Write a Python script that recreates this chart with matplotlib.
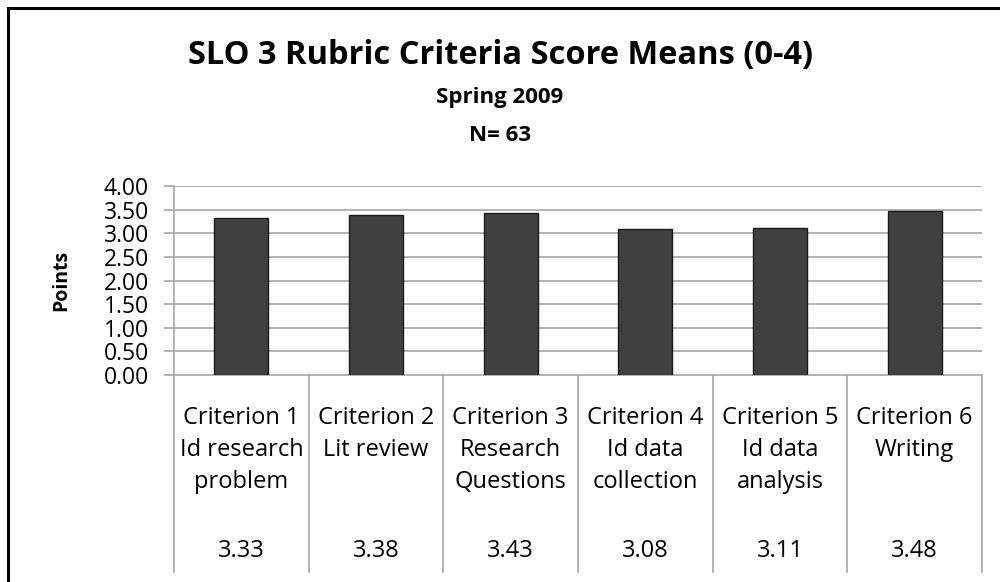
import matplotlib
matplotlib.use("Agg")
import matplotlib.pyplot as plt
from matplotlib.patches import Rectangle

plt.rcParams['font.family'] = ['Open Sans', 'DejaVu Sans']

categories = ["Criterion 1\nId research\nproblem", "Criterion 2\nLit review", "Criterion 3\nResearch\nQuestions",
              "Criterion 4\nId data\ncollection", "Criterion 5\nId data\nanalysis", "Criterion 6\nWriting"]
values = [3.33, 3.38, 3.43, 3.08, 3.11, 3.48]
value_labels = ["3.33", "3.38", "3.43", "3.08", "3.11", "3.48"]
yticks = [0.0, 0.5, 1.0, 1.5, 2.0, 2.5, 3.0, 3.5, 4.0]

fig = plt.figure(figsize=(10, 5.82), dpi=100)
W, H = 1000, 582
def fx(x): return x / W
def fy(y): return 1 - y / H

ax = fig.add_axes([fx(174), fy(375), fx(982) - fx(174), fy(186) - fy(375)])
x = list(range(len(values)))
ax.bar(x, values, width=0.4, color="#404040", edgecolor="#1a1a1a", linewidth=1.0, zorder=3)
ax.set_xlim(-0.5, len(values) - 0.5)
ax.set_ylim(0, 4)
ax.set_yticks(yticks)
ax.set_yticklabels([f"{v:.2f}" for v in yticks], fontsize=16.5)
ax.yaxis.grid(True, color="#a6a6a6", linewidth=1.2, zorder=0)
ax.set_xticks([])
for s in ["top", "right", "bottom"]:
    ax.spines[s].set_visible(False)
ax.spines["left"].set_color("#a6a6a6")
ax.spines["left"].set_linewidth(1.2)
ax.tick_params(axis="y", length=7, width=1.2, color="#a6a6a6", pad=11, labelcolor="black")
ax.set_ylabel("Points", fontsize=14, fontweight="bold")
ax.yaxis.set_label_coords(-0.127, 0.5)

# data table below
tab = fig.add_axes([fx(174), fy(572), fx(982) - fx(174), fy(375) - fy(572)])
tab.set_xlim(-0.5, len(values) - 0.5)
tab.set_ylim(0, 1)
tab.axis("off")
tab.axhline(1, color="#a6a6a6", linewidth=1.2)
for b in range(len(values) + 1):
    tab.plot([b - 0.5, b - 0.5], [0, 1], color="#a6a6a6", linewidth=1.2, clip_on=False)
for i, (c, v) in enumerate(zip(categories, value_labels)):
    tab.text(i, 0.845, c, ha="center", va="top", fontsize=17, linespacing=1.45)
    tab.text(i, 0.076, v, ha="center", va="baseline", fontsize=17)

fig.text(0.5, fy(64), "SLO 3 Rubric Criteria Score Means (0-4)", ha="center", va="baseline",
         fontsize=23.5, fontweight="bold")
fig.text(0.5, fy(103), "Spring 2009", ha="center", va="baseline", fontsize=16, fontweight="bold")
fig.text(0.5, fy(141), "N= 63", ha="center", va="baseline", fontsize=16, fontweight="bold")

fig.patches.append(Rectangle((fx(8), -0.05), 1.0, 1.05 - 8 / H, transform=fig.transFigure,
                             fill=False, edgecolor="black", linewidth=2.2))
fig.savefig("out.png", dpi=100)
